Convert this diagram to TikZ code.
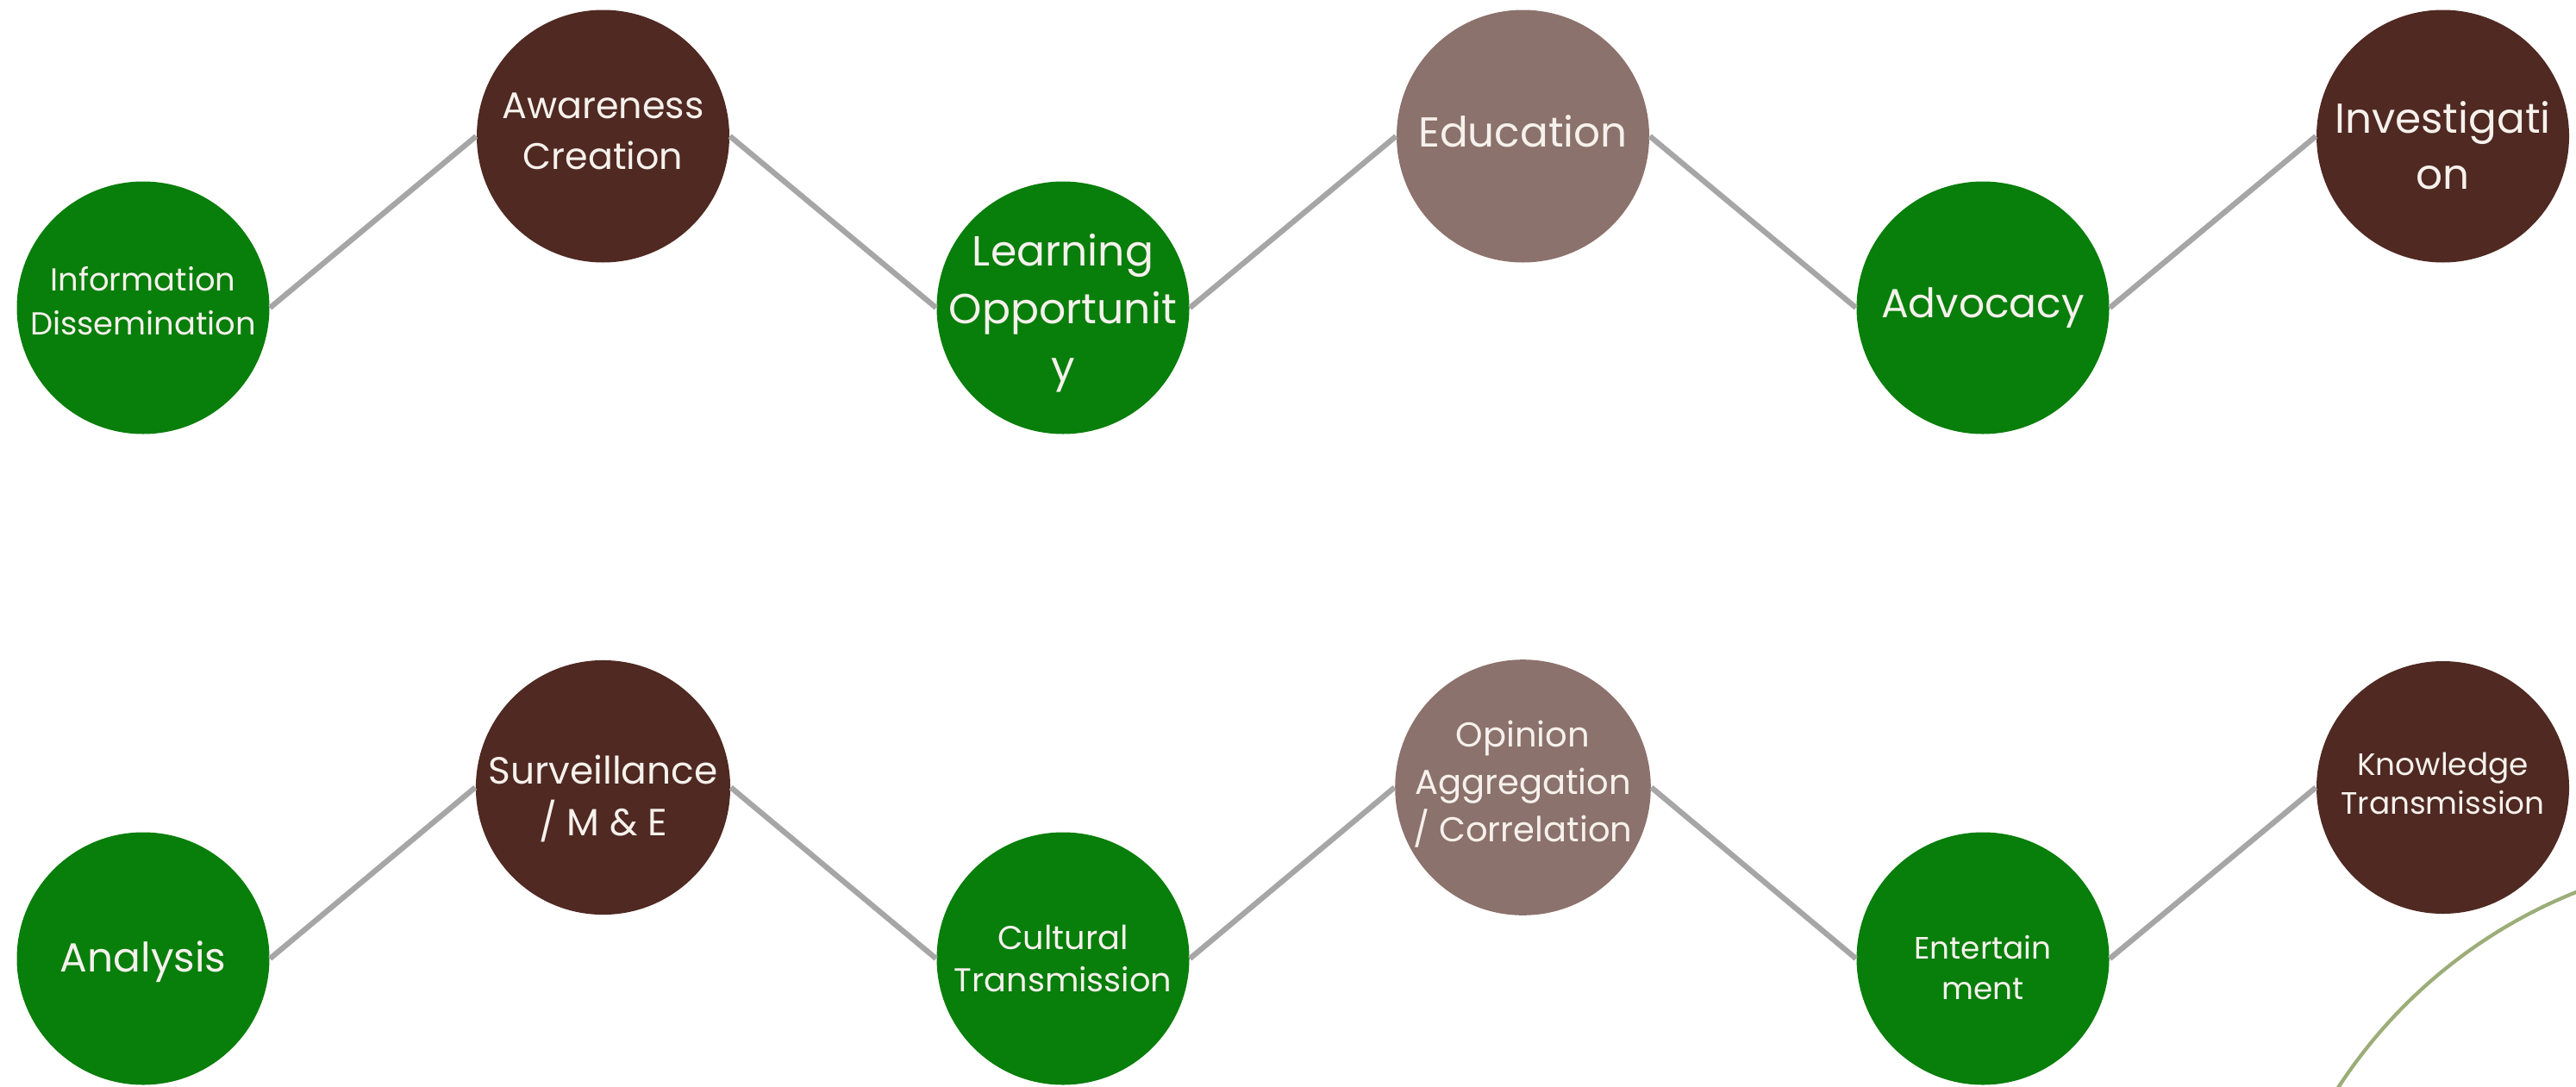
\documentclass[tikz,border=0pt]{standalone}
\usepackage{fontspec}
\setmainfont{Poppins}
\definecolor{leafgreen}{RGB}{8,126,11}
\definecolor{cocoa}{RGB}{79,41,34}
\definecolor{mauve}{RGB}{140,114,108}
\definecolor{offwhite}{RGB}{246,241,236}
\definecolor{linkgray}{RGB}{166,166,166}
\definecolor{olive}{RGB}{156,173,120}
% struts to nudge a label down (taller first line) or up (deeper last line)
\newcommand\pushdown[1]{\rule{0pt}{#1}}
\newcommand\pullup[1]{\rule[-#1]{0pt}{#1}}
\tikzset{
  bubble/.style={circle,minimum size=2.93cm,inner sep=0pt,text=offwhite,align=center},
  gbub/.style={bubble,fill=leafgreen},
  bbub/.style={bubble,fill=cocoa},
  mbub/.style={bubble,fill=mauve},
  fs/.style 2 args={font=\fontsize{#1}{#2}\selectfont},
  link/.style={draw=linkgray,line width=1.8pt},
}
\begin{document}
\begin{tikzpicture}
\useasboundingbox (0,0) rectangle (29.88,12.60);
\begin{scope}
\clip (0,0) rectangle (29.88,12.60);
\draw[olive,line width=1.2pt] (32.07,-3.23) circle (5.9);
\end{scope}
% upper row
\node[gbub,fs={10.5}{14.5}] (info) at (1.66,9.03) {Information\\Dissemination\pullup{4.6pt}};
\node[bbub,fs={12.2}{17}] (aware) at (6.995,11.02) {Awareness\\Creation\pullup{3.4pt}};
\node[gbub,fs={13.9}{19},inner sep=-0.2cm] (learn) at (12.33,9.03) {\pushdown{14pt}Learning\\Opportunit\\y};
\node[mbub,fs={13.8}{18}] (edu) at (17.665,11.02) {Education\pullup{3.4pt}};
\node[gbub,fs={13.4}{18}] (advo) at (23.00,9.03) {Advocacy};
\node[bbub,fs={13.8}{18.5}] (invest) at (28.335,11.02) {\pushdown{16.5pt}Investigati\\on};
% lower row
\node[gbub,fs={13.4}{18}] (anal) at (1.66,1.48) {\pushdown{12.5pt}Analysis};
\node[bbub,fs={12.5}{17}] (surv) at (6.995,3.465) {\pushdown{17pt}Surveillance\\/ M \& E};
\node[gbub,fs={10.9}{14.2}] (cult) at (12.33,1.48) {Cultural\\Transmission};
\node[mbub,fs={11.4}{15.6}] (opin) at (17.665,3.465) {Opinion\\Aggregation\\/ Correlation\pullup{4.3pt}};
\node[gbub,fs={10.2}{13.4}] (enter) at (23.00,1.48) {\pushdown{13.7pt}Entertain\\ment};
\node[bbub,fs={10.2}{12.8}] (know) at (28.335,3.465) {Knowledge\\Transmission\pullup{2.7pt}};
\foreach \a/\b in {info/aware,aware/learn,learn/edu,edu/advo,advo/invest,
                   anal/surv,surv/cult,cult/opin,opin/enter,enter/know}
  \draw[link] (\a.east) -- (\b.west);
\end{tikzpicture}
\end{document}
